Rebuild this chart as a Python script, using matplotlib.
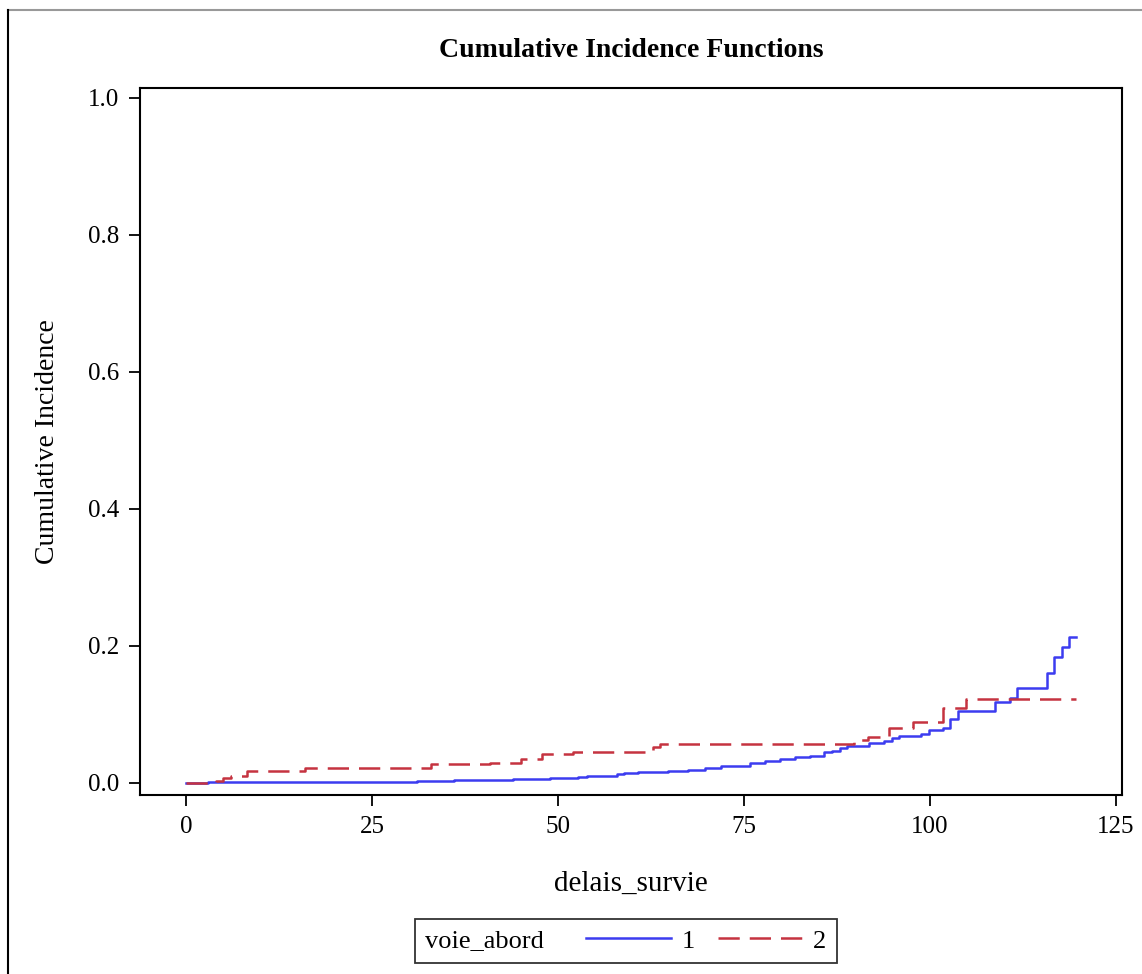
import matplotlib.pyplot as plt
from matplotlib.lines import Line2D
from matplotlib.offsetbox import HPacker

plt.rcParams['font.family'] = ['Liberation Serif', 'DejaVu Serif']

# group 1 (solid blue) step points
t1 = [0, 3, 11, 31, 36, 42, 44, 48.9, 49.8, 52.7, 53.9, 57.9, 58.8, 60.8, 64.8,
      67.5, 69.8, 71.9, 75.8, 77.8, 79.8, 81.9, 83.9, 85.8, 86.8, 87.9, 88.9,
      91.8, 93.8, 94.9, 95.8, 98.8, 99.8, 101.8, 102.7, 103.7, 108.7, 110.8,
      111.7, 115.7, 116.7, 117.7, 118.7, 119.6]
cif1 = [0, 0.001, 0.002, 0.003, 0.004, 0.005, 0.006, 0.007, 0.008, 0.009, 0.0105,
        0.0125, 0.014, 0.0155, 0.017, 0.0185, 0.0214, 0.0253, 0.0287, 0.0326,
        0.035, 0.038, 0.0394, 0.0448, 0.047, 0.0506, 0.054, 0.058, 0.0613, 0.065,
        0.0686, 0.0715, 0.077, 0.081, 0.094, 0.1056, 0.118, 0.1236, 0.139, 0.161,
        0.184, 0.198, 0.2127, 0.2127]

# group 2 (dashed red) step points
t2 = [0, 4.0, 5.0, 6.0, 8.2, 16.0, 32.9, 40.8, 45.0, 47.9, 52.0, 62.8, 63.7,
      89.8, 91.7, 94.5, 97.7, 101.8, 104.8, 119.6]
cif2 = [0, 0.003, 0.0077, 0.010, 0.0175, 0.0214, 0.027, 0.029, 0.0345, 0.042,
        0.0457, 0.052, 0.0565, 0.0623, 0.067, 0.0808, 0.0886, 0.109, 0.122, 0.122]

xticks = [0, 25, 50, 75, 100, 125]
yticks = [0.0, 0.2, 0.4, 0.6, 0.8, 1.0]

fig = plt.figure(figsize=(11.42, 9.74), dpi=100)
ax = fig.add_axes([0.1226, 0.1838, 0.8599, 0.7259])

l1, = ax.step(t1, cif1, where='post', color='#3c3cf0', lw=1.8)
l2, = ax.step(t2, cif2, where='post', color='#c53340', lw=1.8,
              dashes=(8.5, 4))

ax.set_xlim(-6.2, 125.8)
ax.set_ylim(-0.0175, 1.0146)
ax.set_xticks(xticks)
ax.set_xticklabels([str(v) for v in xticks])
ax.set_yticks(yticks)
ax.set_yticklabels(['%.1f' % v for v in yticks])
ax.tick_params(direction='out', length=8, width=1.3, labelsize=18, pad=7)
for s in ax.spines.values():
    s.set_linewidth(1.5)

ax.set_xlabel('delais_survie', fontsize=21, labelpad=24)
ax.set_ylabel('Cumulative Incidence', fontsize=20, labelpad=20)
ax.set_title('Cumulative Incidence Functions', fontsize=20, fontweight='bold',
             pad=22)

leg = fig.legend(handles=[l1, l2], labels=['1', '2'], ncol=2,
                 title='voie_abord', loc='center',
                 bbox_to_anchor=(0.548, 0.034), fontsize=19, title_fontsize=19,
                 frameon=True, fancybox=False, edgecolor='black',
                 handlelength=3.2, columnspacing=0.9, handletextpad=0.4,
                 borderpad=0.4)
leg.get_frame().set_linewidth(1.3)
# put the legend title on the same row as the entries
fs = leg._fontsize
box = HPacker(pad=leg.borderpad * fs, sep=1.6 * fs, align='center',
              children=[leg._legend_title_box, leg._legend_handle_box])
box.set_figure(fig)
box.set_offset(leg._findoffset)
leg._legend_box = box

# outer border of the picture
fig.add_artist(Line2D([0.007, 1.0], [0.9897, 0.9897], color='#999999', lw=1.5))
fig.add_artist(Line2D([0.007, 0.007], [0.0, 0.9897], color='black', lw=1.5))

fig.savefig('out.png', dpi=100)
